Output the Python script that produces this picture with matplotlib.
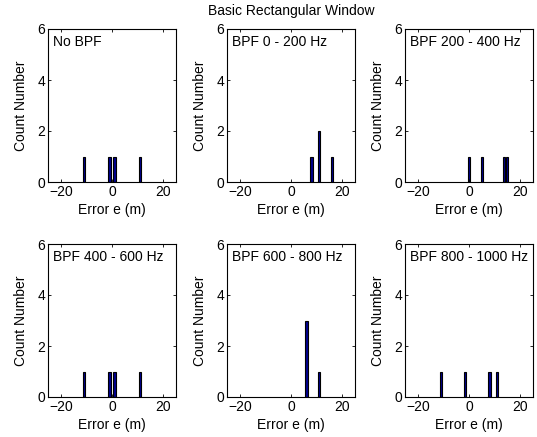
import matplotlib.pyplot as plt

plt.rcParams['font.family'] = ['Liberation Sans', 'DejaVu Sans']
plt.rcParams['font.size'] = 10

labels = ["No BPF", "BPF 0 - 200 Hz", "BPF 200 - 400 Hz",
          "BPF 400 - 600 Hz", "BPF 600 - 800 Hz", "BPF 800 - 1000 Hz"]

# error values (m) and counts
err = [
    [-11, -1, 1, 11],
    [8, 11, 16],
    [0, 5, 13.6, 14.8],
    [-11, -1, 1, 11],
    [6, 11],
    [-11, -1.5, 8, 11],
]
counts = [
    [1, 1, 1, 1],
    [1, 2, 1],
    [1, 1, 1, 1],
    [1, 1, 1, 1],
    [3, 1],
    [1, 1, 1, 1],
]

W, H = 537, 437
fig = plt.figure(figsize=(W / 100, H / 100), dpi=100)

lefts = [48, 227, 405]
tops = [29, 244]
aw, ah = 128, 153

for i in range(6):
    r, c = divmod(i, 3)
    ax = fig.add_axes([lefts[c] / W, (H - tops[r] - ah) / H, aw / W, ah / H])
    ax.bar(err[i], counts[i], width=1.0, color='#00008f', edgecolor='black', linewidth=0.8)
    ax.set_xlim(-25, 25)
    ax.set_ylim(0, 6)
    ax.set_xticks([-20, 0, 20])
    ax.set_yticks([0, 2, 4, 6])
    ax.tick_params(direction='in', length=2.5, width=0.6, top=True, right=True, pad=2)
    for s in ax.spines.values():
        s.set_linewidth(0.8)
    ax.set_xlabel("Error e (m)", labelpad=3)
    ax.set_ylabel("Count Number", labelpad=7)
    ax.text(-23, 5.5, labels[i], va='center', ha='left', clip_on=False)
    if i == 1:
        ax.set_title("Basic Rectangular Window", fontsize=10, pad=10)

fig.savefig("out.png", dpi=100)
